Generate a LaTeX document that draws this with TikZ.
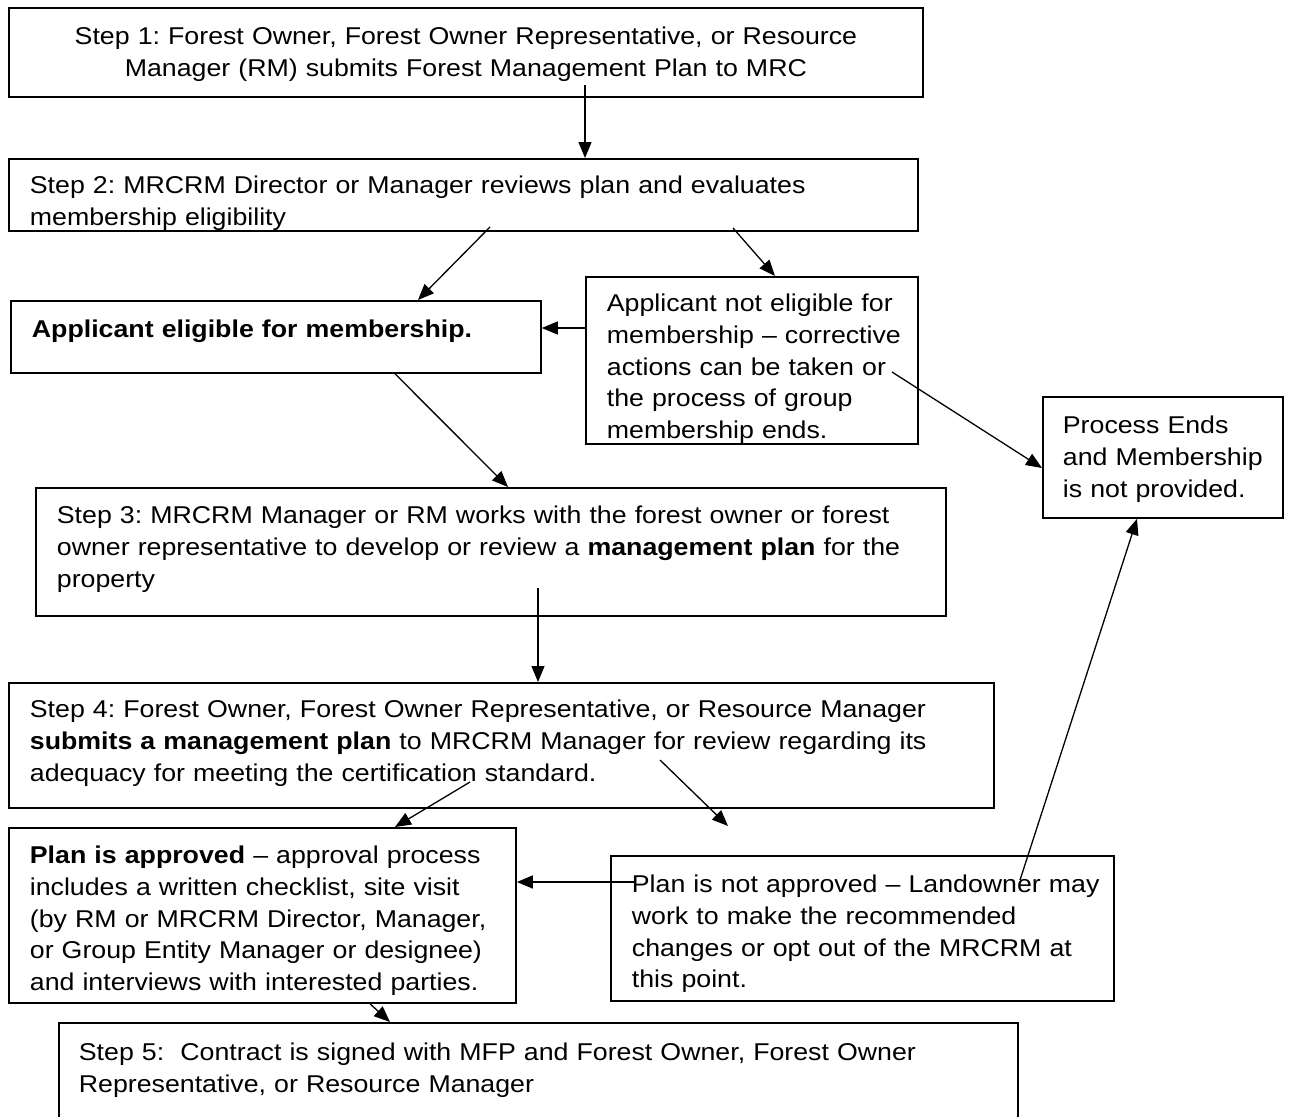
\documentclass[tikz,border=0pt]{standalone}
\usepackage{fontspec}
\setmainfont{Liberation Sans}[FakeStretch=1.1]
\usetikzlibrary{arrows.meta,calc}
\newcommand{\boxlines}[2][l]{\begin{tabular}[t]{@{}#1@{}}#2\end{tabular}}
\begin{document}
\frenchspacing
\begin{tikzpicture}[x=1pt,y=-1pt,
  box/.style={draw, line width=1.8pt, anchor=north west, inner ysep=0pt, inner xsep=21pt,
    align=left, font=\fontsize{24.3}{31.6}\selectfont\frenchspacing},
  arr/.style={line width=1.3pt, -{Triangle[length=16pt,width=13pt]}}]
\useasboundingbox (0,0) rectangle (1289,1116);
\clip (0,0) rectangle (1289,1116);
% boxes
\node[box, align=center, text width=872pt, text height=37pt, text depth=52pt] (step1) at (8,7)
  {\boxlines[c]{Step 1: Forest Owner, Forest Owner Representative, or Resource\\Manager (RM) submits Forest Management Plan to MRC}};
\node[box, text width=867pt, text height=35pt, text depth=37pt] (step2) at (8,158)
  {\boxlines{Step 2: MRCRM Director or Manager reviews plan and evaluates\\membership eligibility}};
\node[box, text width=488pt, text height=37pt, text depth=35pt] (elig) at (10,300)
  {\boxlines{\textbf{Applicant eligible for membership.}}};
\node[box, text width=290pt, text height=35pt, text depth=132pt] (notelig) at (585,276)
  {\boxlines{Applicant not eligible for\\membership -- corrective\\actions can be taken or\\the process of group\\membership ends.}};
\node[box, inner xsep=20pt, text width=200pt, text height=37pt, text depth=84pt] (ends) at (1042,396)
  {\boxlines{Process Ends\\and Membership\\is not provided.}};
\node[box, text width=868pt, text height=36pt, text depth=92pt] (step3) at (35,487)
  {\boxlines{Step 3: MRCRM Manager or RM works with the forest owner or forest\\owner representative to develop or review a \textbf{management plan} for the\\property}};
\node[box, text width=943pt, text height=35pt, text depth=90pt] (step4) at (8,682)
  {\boxlines{Step 4: Forest Owner, Forest Owner Representative, or Resource Manager\\\textbf{submits a management plan} to MRCRM Manager for review regarding its\\adequacy for meeting the certification standard.}};
\node[box, text width=465pt, text height=36pt, text depth=139pt] (appr) at (8,827)
  {\boxlines{\textbf{Plan is approved} -- approval process\\includes a written checklist, site visit\\(by RM or MRCRM Director, Manager,\\or Group Entity Manager or designee)\\and interviews with interested parties.}};
\node[box, text width=461pt, text height=37pt, text depth=108pt] (notappr) at (610,855)
  {\boxlines{Plan is not approved -- Landowner may\\work to make the recommended\\changes or opt out of the MRCRM at\\this point.}};
\node[box, inner xsep=20pt, text width=919pt, text height=38pt, text depth=120pt] (step5) at (58,1022)
  {\boxlines{Step 5:\ \ Contract is signed with MFP and Forest Owner, Forest Owner\\Representative, or Resource Manager}};
% loose ends of the connectors
\coordinate (s1out) at (585,85);
\coordinate (s2yes) at (490,227);
\coordinate (s2no) at (733,228);
\coordinate (noout) at (892,372);
\coordinate (s3out) at (538,588);
\coordinate (s4yes) at (470,782);
\coordinate (s4no) at (660,760);
\coordinate (s4noend) at (728,826);
\coordinate (naleft) at (635,882);
\coordinate (naup) at (1020,880);
% connectors
\draw[arr] (s1out) -- (s1out |- step2.north);
\draw[arr] (s2yes) -- ($(elig.north west)+(408,0)$);
\draw[arr] (s2no) -- ($(notelig.north west)+(190,0)$);
\draw[arr] ($(notelig.north west)+(0,52)$) -- ($(elig.north east)+(0,28)$);
\draw[arr] (noout) -- ($(ends.north west)+(0,72)$);
\draw[arr] ($(elig.south west)+(385,0)$) -- ($(step3.north west)+(473,0)$);
\draw[arr] (s3out) -- (s3out |- step4.north);
\draw[arr] (s4yes) -- ($(appr.north west)+(387,0)$);
\draw[arr] (s4no) -- (s4noend);
\draw[arr] (naleft) -- (naleft -| appr.east);
\draw[arr] (naup) -- ($(ends.south west)+(95,0)$);
\draw[arr] ($(appr.south west)+(362,0)$) -- ($(step5.north west)+(332,0)$);
\end{tikzpicture}
\end{document}
